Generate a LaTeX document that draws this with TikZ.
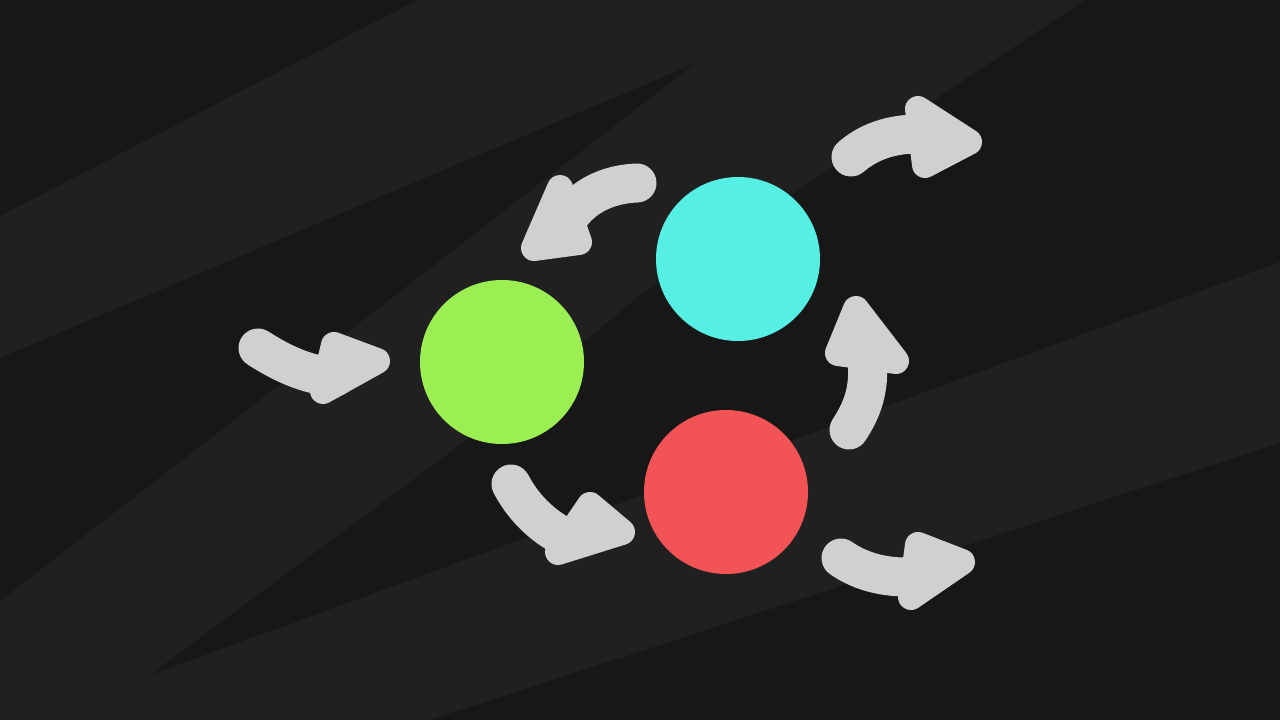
\documentclass[tikz,border=0pt]{standalone}
\definecolor{bgdark}{HTML}{171717}
\definecolor{bglight}{HTML}{202020}
\definecolor{arrowgray}{HTML}{D0D0D0}
\definecolor{cgreen}{HTML}{9BEF52}
\definecolor{ccyan}{HTML}{55F0E3}
\definecolor{cred}{HTML}{F25455}
\begin{document}
\begin{tikzpicture}[x=1pt,y=-1pt,
  ball/.style={circle, minimum size=164pt, inner sep=0pt, draw=none},
  shaft/.style={draw=arrowgray, line width=39pt, line cap=round},
  tiphead/.style={fill=arrowgray, draw=arrowgray, line width=26pt, line join=round}]
\useasboundingbox (0,0) rectangle (1280,720);
% background
\fill[bglight] (0,0) rectangle (1280,720);
\fill[bgdark] (0,0) -- (417,0) -- (0,216) -- cycle;
\fill[bgdark] (694,64) -- (0,358) -- (0,601) -- cycle;
\fill[bgdark] (150,675) -- (480,430) -- (640,295) -- (1085,0) -- (1280,0) -- (1280,262) -- cycle;
\fill[bgdark] (430,720) -- (1280,443) -- (1280,720) -- cycle;
% balls
\node[ball, fill=cgreen] (green) at (502,362) {};
\node[ball, fill=ccyan] (cyan) at (738,259) {};
\node[ball, fill=cred] (red) at (726,492) {};
% arrow 1: into green
\coordinate (a1s) at (258,348);
\coordinate (a1e) at (335,377);
\draw[shaft] (a1s) .. controls (280,362) and (305,375) .. (a1e);
\filldraw[tiphead] (334,345) -- (377,361) -- (323,391) -- cycle;
% arrow 2: cyan to green
\coordinate (a2s) at (637,183);
\coordinate (a2e) at (572,213);
\draw[shaft] (a2s) .. controls (612,184) and (588,193) .. (a2e);
\filldraw[tiphead] (560,188) -- (579,242) -- (534,248) -- cycle;
% arrow 3: out of cyan
\coordinate (a3s) at (851,157);
\coordinate (a3e) at (914,134);
\draw[shaft] (a3s) .. controls (866,144) and (886,135) .. (a3e);
\filldraw[tiphead] (918,109) -- (969,142) -- (925,165) -- cycle;
% arrow 4: red to cyan
\coordinate (a4s) at (849,430);
\coordinate (a4e) at (867,360);
\draw[shaft] (a4s) .. controls (862,410) and (870,390) .. (a4e);
\filldraw[tiphead] (838,353) -- (856,309) -- (896,361) -- cycle;
% arrow 5: green to red
\coordinate (a5s) at (511,484);
\coordinate (a5e) at (566,538);
\draw[shaft] (a5s) .. controls (522,505) and (540,525) .. (a5e);
\filldraw[tiphead] (590,505) -- (622,532) -- (558,552) -- cycle;
% arrow 6: out of red
\coordinate (a6s) at (841,558);
\coordinate (a6e) at (906,577);
\draw[shaft] (a6s) .. controls (858,570) and (880,577) .. (a6e);
\filldraw[tiphead] (918,545) -- (962,562) -- (911,597) -- cycle;
\end{tikzpicture}
\end{document}
